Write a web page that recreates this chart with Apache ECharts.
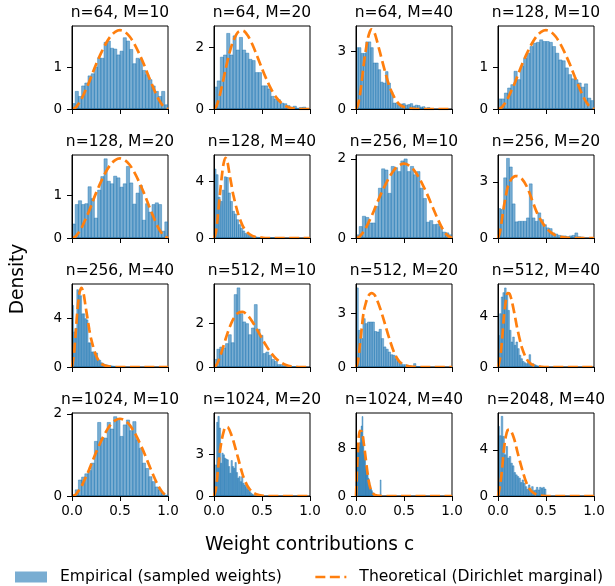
<!DOCTYPE html>
<html><head><meta charset="utf-8">
<script src="https://cdn.jsdelivr.net/npm/echarts@6/dist/echarts.min.js"></script>
<style>html,body{margin:0;padding:0;background:#fff}#c{width:615px;height:586px}</style>
</head><body><div id="c"></div>
<script>
// ---- panel titles (n = sequence length, M = mixture size)
const panelTitles = [
  'n=64, M=10','n=64, M=20','n=64, M=40','n=128, M=10',
  'n=128, M=20','n=128, M=40','n=256, M=10','n=256, M=20',
  'n=256, M=40','n=512, M=10','n=512, M=20','n=512, M=40',
  'n=1024, M=10','n=1024, M=20','n=1024, M=40','n=2048, M=40'
];
// ---- y-axis labelled tick and upper limit per panel
const yTickValues = [1,2,3,1, 1,4,2,3, 4,2,3,4, 2,3,8,4];
const yUpperLimits = [1.98,2.69,4.33,1.98, 1.96,5.9,2.1,4.43, 6.87,3.83,4.67,6.51, 2.02,5.95,14.0,7.19];
// ---- histogram bin ranges [first edge, last edge] (30 equal bins each)
const binRanges = [
  [0,1],[0,0.99],[0,0.77],[0,1],
  [0,1],[0,0.64],[0,1],[0,0.89],
  [0,0.5],[0,0.9],[0,0.72],[0,0.51],
  [0,1],[0,0.41],[0,0.27],[0,0.5]
];
// ---- empirical densities (bar heights)
const hist_n64_M10   = [0.13,0.42,0.30,0.55,0.62,0.79,0.84,1.00,1.22,1.21,1.59,1.62,1.45,1.43,1.29,1.38,1.70,1.62,1.42,1.08,1.21,1.19,0.92,0.82,0.70,0.55,0.42,0.30,0.42,0.10];
const hist_n64_M20   = [0.71,0.91,1.68,1.75,2.45,1.75,2.37,1.91,2.32,1.91,1.81,1.61,1.57,1.18,1.18,0.75,0.75,0.65,0.41,0.32,0.30,0.19,0.17,0.11,0.06,0.09,0.03,0.05,0.06,0.02];
const hist_n64_M40   = [3.2,3.2,2.9,2.9,3.5,3.5,3.2,2.4,2.4,2.05,1.4,1.35,1.95,1.35,0.9,0.31,0.31,0.2,0.26,0.28,0.2,0.23,0.28,0.15,0.2,0.18,0.1,0.12,0.05,0.08];
const hist_n128_M10  = [0.24,0.24,0.38,0.5,0.58,0.9,0.7,1.02,1.21,1.33,1.49,1.57,1.59,1.65,1.61,1.61,1.59,1.49,1.33,1.17,1.15,0.98,0.82,0.72,0.7,0.62,0.52,0.6,0.26,0.2];
const hist_n128_M20  = [0.33,0.79,0.88,0.79,0.81,1.21,0.93,0.47,1.13,1.45,1.87,1.34,1.28,1.46,1.42,1.2,1.28,1.69,1.3,0.8,1.06,1.24,0.42,0.81,0.61,0.79,0.83,0.79,0.16,0.38];
const hist_n128_M40  = [4.9,4.5,2.9,2.6,3.4,4.35,4.3,3.2,2.6,1.9,1.7,1.3,0.95,0.7,0.5,0.33,0.25,0.18,0.12,0.14,0.08,0.05,0.04,0.02,0.03,0.02,0.01,0.02,0.01,0.02];
const hist_n256_M10  = [0.08,0.29,0.55,0.52,0.38,0.38,0.8,1.26,1.75,1.72,1.13,1.81,1.78,1.68,1.95,2.0,1.68,1.81,1.6,1.68,1.26,1.0,0.4,0.44,0.34,0.35,0.29,0.15,0.13,0.08];
const hist_n256_M20  = [1.57,1.52,3.21,4.25,3.79,1.82,0.86,0.89,0.89,0.89,1.07,2.89,1.07,0.89,1.34,0.98,0.71,0.54,0.5,0.27,0.21,0.14,0.11,0.11,0.07,0.11,0.14,0.27,0.07,0.05];
const hist_n256_M40  = [5.1,2.9,3.2,6.4,6.3,5.9,4.4,4.4,4.0,3.9,2.0,2.0,1.25,1.25,1.2,1.15,0.55,0.55,0.35,0.3,0.2,0.18,0.14,0.12,0.1,0.08,0.06,0.05,0.04,0.03];
const hist_n512_M10  = [0.35,0.82,0.92,0.88,1.08,1.49,1.12,3.34,3.65,2.46,2.08,2.0,1.49,1.8,2.88,1.74,1.46,0.62,0.69,0.54,0.35,0.26,0.11,0.11,0.05,0.03,0.03,0.02,0.0,0.02];
const hist_n512_M20  = [4.45,2.06,1.6,2.72,2.44,2.53,2.53,2.53,2.0,1.97,2.12,1.6,1.13,1.0,0.84,0.69,0.66,0.47,0.32,0.24,0.13,0.13,0.09,0.07,0.04,0.19,0.03,0.02,0.02,0.02];
const hist_n512_M40  = [2.48,4.18,5.49,5.83,6.2,5.62,4.44,2.88,1.96,2.35,1.7,1.96,1.44,0.92,0.65,0.44,0.34,0.26,0.44,0.97,0.18,0.26,0.18,0.13,0.08,0.08,0.05,0.05,0.03,0.03];
const hist_n1024_M10 = [0.02,0.15,0.39,0.46,0.54,0.62,0.8,1.33,1.79,1.41,1.41,1.79,1.63,1.93,1.89,1.45,1.73,1.85,1.59,1.81,1.37,1.16,0.8,0.67,0.47,0.35,0.22,0.15,0.07,0.02];
const hist_n1024_M20 = [1.03,2.23,5.28,5.71,4.87,2.35,3.07,2.95,2.71,2.64,2.59,2.11,1.63,2.54,2.11,1.99,2.4,1.68,1.27,1.39,1.03,1.39,0.91,0.79,0.67,0.53,0.43,0.31,0.19,0.12];
const hist_n1024_M40 = [6.0,7.5,8.8,8.3,9.0,10.8,11.8,13.4,10.0,7.5,6.8,5.0,4.2,3.6,3.0,2.3,1.8,1.2,0.9,0.55,0.45,0.3,0.2,0.15,0.1,0.1,0.05,0.05,2.7,0.05];
const hist_n2048_M40 = [6.03,5.22,6.9,5.16,3.57,4.29,3.28,3.42,2.84,2.61,2.03,1.83,1.68,1.54,1.16,1.39,1.1,0.81,0.58,0.96,0.52,0.81,0.46,0.52,0.75,0.52,0.75,0.67,0.75,0.6];
// ---- theoretical density, read at these c positions
const curveX = [0,0.02,0.04,0.06,0.08,0.1,0.12,0.14,0.16,0.18,0.2,0.25,0.3,0.35,0.4,0.45,0.5,0.55,0.6,0.65,0.7,0.75,0.8,0.85,0.9,0.95,1.0];
const curve_sym      = [0,0.01,0.04,0.10,0.16,0.24,0.34,0.44,0.54,0.65,0.77,1.06,1.32,1.55,1.73,1.84,1.88,1.84,1.73,1.55,1.32,1.06,0.77,0.49,0.24,0.07,0];
const curve_mode30   = [0,0.06,0.22,0.44,0.71,0.99,1.28,1.55,1.80,2.02,2.20,2.49,2.54,2.39,2.09,1.71,1.31,0.94,0.62,0.37,0.20,0.09,0.03,0.01,0,0,0];
const curve_n64_M40  = [0,0.2,0.7,1.45,2.3,3.0,3.6,3.98,4.16,4.1,3.88,2.95,2.0,1.15,0.6,0.25,0.1,0.04,0.01,0,0,0,0,0,0,0,0];
const curve_n128_M40 = [0,0.4,1.6,3.0,4.3,5.3,5.7,5.4,4.6,3.85,3.1,1.75,0.85,0.38,0.15,0.05,0.02,0,0,0,0,0,0,0,0,0,0];
const curve_n256_M20 = [0,0.3,0.95,1.65,2.2,2.7,2.95,3.15,3.25,3.3,3.3,3.15,2.75,2.1,1.42,0.92,0.55,0.3,0.14,0.06,0.02,0,0,0,0,0,0];
const curve_n256_M40 = [0,1.0,3.0,5.0,6.2,6.55,6.1,5.1,4.1,3.1,2.3,0.95,0.3,0.1,0.03,0,0,0,0,0,0,0,0,0,0,0,0];
const curve_n512_M20 = [0,0.3,1.2,2.2,3.1,3.55,3.9,4.08,4.16,4.12,4.0,3.32,2.45,1.55,0.78,0.32,0.12,0.04,0.01,0,0,0,0,0,0,0,0];
const curve_n512_M40 = [0,0.6,1.9,3.8,5.1,5.8,5.75,5.3,4.6,3.85,3.05,1.5,0.6,0.2,0.06,0.02,0,0,0,0,0,0,0,0,0,0,0];
const curve_n1024_M20= [0,0.5,1.8,3.1,4.0,4.6,4.95,4.95,4.75,4.4,4.0,2.75,1.5,0.7,0.28,0.1,0.03,0,0,0,0,0,0,0,0,0,0];
const curve_n1024_M40= [0,7.5,11.0,10.9,9.0,6.5,3.9,1.9,0.9,0.4,0.15,0.02,0,0,0,0,0,0,0,0,0,0,0,0,0,0,0];
const curve_n2048_M40= [0,0.8,2.1,3.9,5.1,5.7,5.75,5.55,5.15,4.6,3.9,2.35,1.05,0.4,0.13,0.04,0,0,0,0,0,0,0,0,0,0,0];

const histSets = [hist_n64_M10,hist_n64_M20,hist_n64_M40,hist_n128_M10,hist_n128_M20,hist_n128_M40,hist_n256_M10,hist_n256_M20,
  hist_n256_M40,hist_n512_M10,hist_n512_M20,hist_n512_M40,hist_n1024_M10,hist_n1024_M20,hist_n1024_M40,hist_n2048_M40];
const curveSets = [curve_sym,curve_mode30,curve_n64_M40,curve_sym,curve_sym,curve_n128_M40,curve_sym,curve_n256_M20,
  curve_n256_M40,curve_mode30,curve_n512_M20,curve_n512_M40,curve_sym,curve_n1024_M20,curve_n1024_M40,curve_n2048_M40];

// ---- layout
const colLeft = [72,214,356,498], rowTop = [26,155,284,413], PW = 96, PH = 83;
const FONT = 'DejaVu Sans';
const NAME_EMP = 'Empirical (sampled weights)';
const NAME_TH = 'Theoretical (Dirichlet marginal)';

const grid = [], xAxis = [], yAxis = [], series = [], graphic = [];
for (let i = 0; i < 16; i++) {
  const r = Math.floor(i / 4), c = i % 4;
  grid.push({left: colLeft[c], top: rowTop[r], width: PW, height: PH, show: true,
    borderColor: '#000', borderWidth: 1, backgroundColor: '#fff', containLabel: false});
  xAxis.push({gridIndex: i, type: 'value', min: 0, max: 1, interval: 0.5, z: 10,
    axisLine: {show: true, onZero: false, lineStyle: {color: '#000', width: 1}},
    axisTick: {show: true, length: 5, lineStyle: {color: '#000', width: 1}},
    axisLabel: {show: r === 3, fontSize: 13.5, fontFamily: FONT, color: '#000', margin: 8,
      formatter: v => v.toFixed(1)},
    splitLine: {show: false}});
  const t = yTickValues[i];
  yAxis.push({gridIndex: i, type: 'value', min: 0, max: yUpperLimits[i], interval: t, z: 10,
    axisLine: {show: true, onZero: false, lineStyle: {color: '#000', width: 1}},
    axisTick: {show: true, length: 5, customValues: [0, t], lineStyle: {color: '#000', width: 1}},
    axisLabel: {fontSize: 13.5, fontFamily: FONT, color: '#000', margin: 10, customValues: [0, t],
      formatter: v => (Math.abs(v / t - Math.round(v / t)) < 1e-6 ? String(v) : '')},
    splitLine: {show: false}});
  const [lo, hi] = binRanges[i];
  const h = histSets[i];
  const w = (hi - lo) / h.length;
  const bars = h.map((v, k) => [lo + k * w, lo + (k + 1) * w, v]);
  series.push({type: 'custom', name: NAME_EMP, xAxisIndex: i, yAxisIndex: i, data: bars, clip: true, z: 2,
    encode: {x: [0, 1], y: 2},
    itemStyle: {color: 'rgba(31,119,180,0.6)'},
    renderItem: (params, api) => {
      const a = api.coord([api.value(0), 0]);
      const b = api.coord([api.value(1), api.value(2)]);
      return {type: 'rect', shape: {x: a[0], y: b[1], width: b[0] - a[0], height: a[1] - b[1]},
        style: {fill: 'rgba(31,119,180,0.6)', stroke: 'rgba(31,119,180,0.75)', lineWidth: 0.6}};
    }});
  series.push({type: 'line', name: NAME_TH, xAxisIndex: i, yAxisIndex: i, z: 5, clip: true,
    data: curveX.map((x, j) => [x, curveSets[i][j]]),
    showSymbol: false, symbol: 'none', smooth: 0.3,
    itemStyle: {color: '#ff7f0e'},
    lineStyle: {color: '#ff7f0e', width: 2.7, type: [10, 4.5]}});
  graphic.push({type: 'text', x: colLeft[c] + PW / 2, y: rowTop[r] - 13.5, z: 20,
    style: {text: panelTitles[i], fontSize: 15.5, fontFamily: FONT, fill: '#000', align: 'center', verticalAlign: 'middle'}});
}
graphic.push({type: 'text', x: 18.5, y: 279, rotation: Math.PI / 2, z: 20,
  style: {text: 'Density', fontSize: 18.6, fontFamily: FONT, fill: '#000', align: 'center', verticalAlign: 'middle'}});
graphic.push({type: 'text', x: 309.5, y: 545, z: 20,
  style: {text: 'Weight contributions c', fontSize: 18.6, fontFamily: FONT, fill: '#000', align: 'center', verticalAlign: 'middle'}});

const legendCommon = {orient: 'horizontal', top: 569, itemWidth: 32, itemHeight: 11, padding: 0, selectedMode: false,
  textStyle: {fontSize: 15.6, fontFamily: FONT, color: '#000', padding: [0, 0, 0, 8]}};
const legend = [
  Object.assign({}, legendCommon, {left: 15, data: [{name: NAME_EMP, icon: 'rect'}]}),
  Object.assign({}, legendCommon, {left: 314, itemWidth: 31,
    itemStyle: {color: 'rgba(0,0,0,0)', borderColor: 'rgba(0,0,0,0)', borderWidth: 0, opacity: 0},
    lineStyle: {color: '#ff7f0e', width: 2.7, type: [10, 4.5]},
    data: [{name: NAME_TH}]})
];

const chart = echarts.init(document.getElementById('c'), null, {renderer: 'canvas', devicePixelRatio: 1});
chart.setOption({animation: false, backgroundColor: '#fff', grid, xAxis, yAxis, series, graphic, legend});
</script></body></html>
